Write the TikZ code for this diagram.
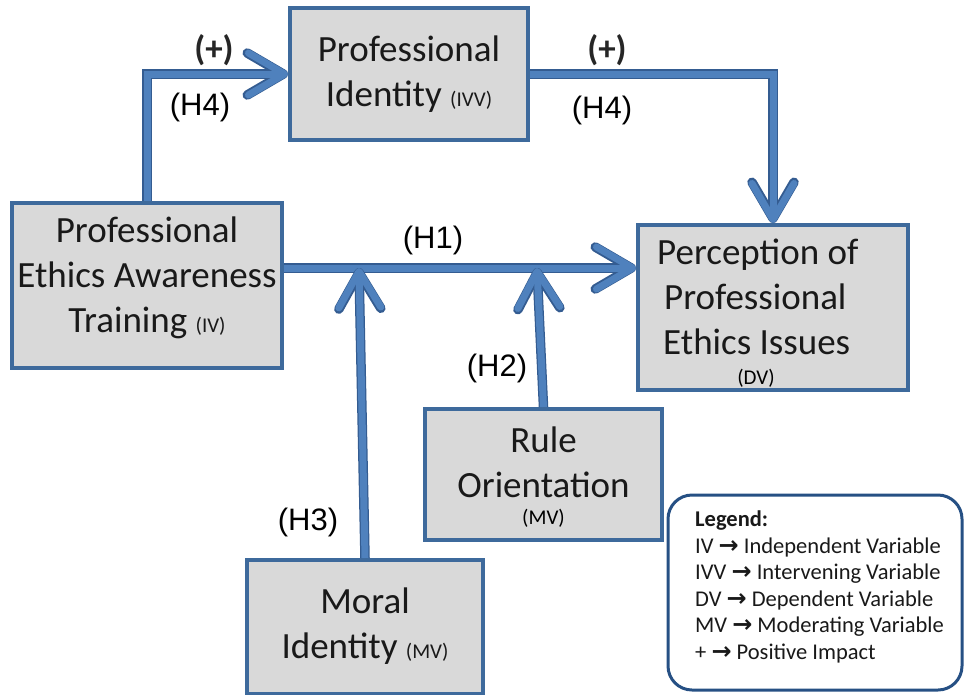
\documentclass[tikz,border=0pt]{standalone}
\usepackage{fontspec}
\setmainfont{Carlito}
\newfontfamily\arialfont{Liberation Sans}
\newfontfamily\arrowfont{DejaVu Sans}
\usetikzlibrary{arrows.meta,calc}
\definecolor{boxfill}{RGB}{217,217,217}
\definecolor{boxedge}{RGB}{62,106,156}
\definecolor{connlight}{RGB}{79,129,189}
\definecolor{conndark}{RGB}{52,92,145}
\definecolor{legendedge}{RGB}{38,80,132}
\tikzset{
  box/.style={draw=boxedge, fill=boxfill, line width=4pt, inner sep=0pt},
  boxtext/.style={font=\fontsize{37}{45}\selectfont, align=center, inner sep=0pt, text=black!90},
  conn/.style={draw=connlight, line width=7pt,
    -{Straight Barb[length=36pt,width=42pt,round]},
    preaction={draw=conndark, line width=9.5pt}},
  hyp/.style={font=\arialfont\fontsize{31}{31}\selectfont, inner sep=0pt},
  plus/.style={font=\bfseries\fontsize{35}{35}\selectfont, inner sep=0pt, text=black!85},
  legendbox/.style={draw=legendedge, fill=white, line width=3pt, rounded corners=24pt, inner sep=0pt},
  legendtext/.style={font=\fontsize{22.5}{26.5}\selectfont, align=left, inner sep=0pt, text=black!90}
}
\newcommand{\sm}[1]{{\fontsize{21}{21}\selectfont #1}}
\newcommand{\rarr}{{\arrowfont\bfseries\fontsize{24}{24}\selectfont →}}
\begin{document}
\begin{tikzpicture}[x=1pt,y=-1pt]
\useasboundingbox (0,0) rectangle (966,694);
% boxes
\node[box, minimum width=238pt, minimum height=132pt] (pi) at (409,74) {};
\node[box, minimum width=270pt, minimum height=165pt] (peat) at (147,285.5) {};
\node[box, minimum width=270pt, minimum height=165pt] (perc) at (773,307.5) {};
\node[box, minimum width=237pt, minimum height=131pt] (rule) at (543.5,474.5) {};
\node[box, minimum width=236pt, minimum height=134pt] (moral) at (365,627) {};
\node[legendbox, minimum width=294pt, minimum height=195pt] (legend) at (815,592.5) {};
% box texts
\node[boxtext] (pi-t) at (409,74) {Professional\\Identity \sm{(IVV)}};
\node[boxtext] (peat-t) at (147,278) {Professional\\Ethics Awareness\\Training \sm{(IV)}};
\node[boxtext, align=left, anchor=north west] (perc-t) at (657,239) {Perception of\\\hspace*{7pt}Professional\\\hspace*{6pt}Ethics Issues};
\node[inner sep=0pt, font=\fontsize{21}{21}\selectfont] (perc-dv) at (756,378) {(DV)};
\node[boxtext] (rule-t) at (543.5,462) {Rule\\Orientation};
\node[inner sep=0pt, font=\fontsize{21}{21}\selectfont] (rule-mv) at (543.5,518) {(MV)};
\node[boxtext] (moral-t) at (365,626) {Moral\\Identity \sm{(MV)}};
\node[legendtext, anchor=north west] (legend-t) at (695,511) {\textbf{Legend:}\\
IV \rarr\ Independent Variable\\
IVV \rarr\ Intervening Variable\\
DV \rarr\ Dependent Variable\\
MV \rarr\ Moderating Variable\\
+ \rarr\ Positive Impact};
% connectors
\coordinate (h1) at (450,268);
\coordinate (mtip) at (359,268);
\coordinate (rtip) at (537,268);
\draw[conn] (peat.north) |- (pi.west);
\draw[conn] (pi.east) -| (perc.north);
\draw[conn] (peat.east |- h1) -- (perc.west |- h1);
\draw[conn] (moral.north) -- (mtip);
\draw[conn] (rule.north) -- (rtip);
% labels
\node[plus] (plus1) at (214,50) {(+)};
\node[hyp] (h4a) at (200,107) {(H4)};
\node[plus] (plus2) at (607,50) {(+)};
\node[hyp] (h4b) at (602,110) {(H4)};
\node[hyp] (h1l) at (433,240) {(H1)};
\node[hyp] (h2l) at (497,368) {(H2)};
\node[hyp] (h3l) at (308,522) {(H3)};
\end{tikzpicture}
\end{document}
